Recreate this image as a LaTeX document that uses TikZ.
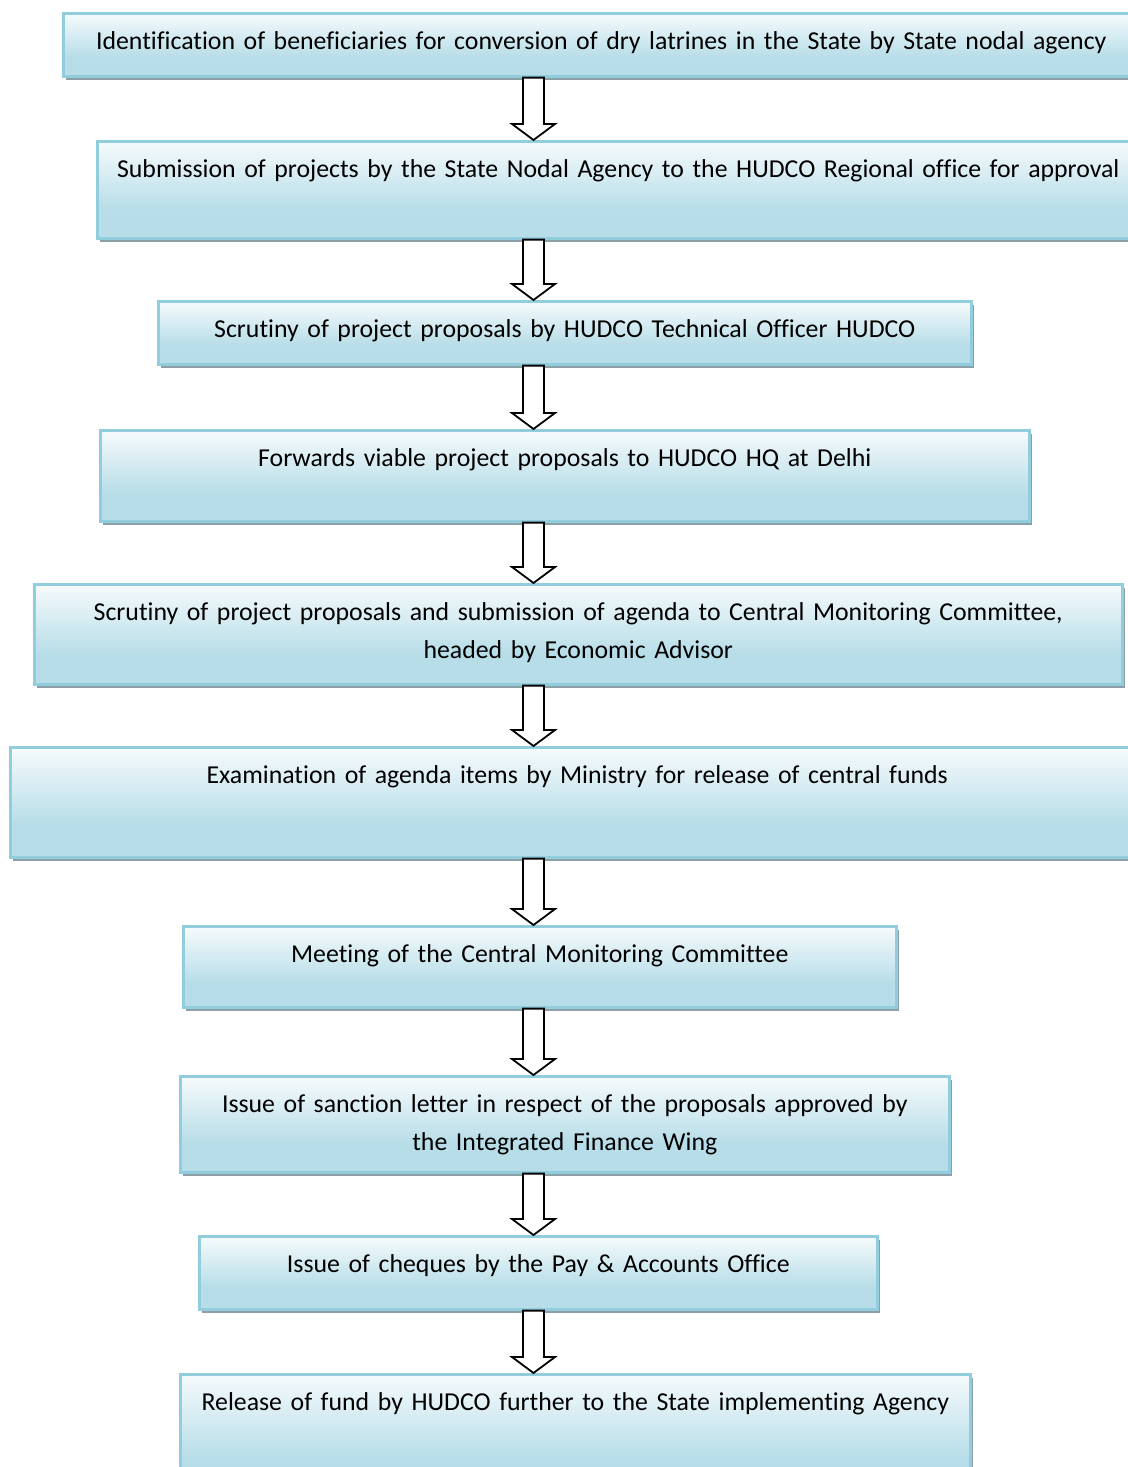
\documentclass[tikz,border=0pt]{standalone}
\usepackage{fontspec}
\setmainfont{Carlito}[Ligatures=NoCommon]
\usetikzlibrary{calc,shadows}

\definecolor{boxline}{RGB}{146,205,221}
\definecolor{boxfill}{RGB}{183,221,232}
\definecolor{shadowgray}{RGB}{140,158,166}
\pgfdeclareverticalshading{stepshade}{100bp}{color(0bp)=(boxfill); color(40bp)=(boxfill); color(80bp)=(white); color(100bp)=(white)}

% hollow block arrow from the bottom of one box to the top of the next
\newcommand{\blockdown}[2]{%
  \draw[blockarrow] let \p1=(#1.south), \p2=(#2.north) in
    (261.5pt,\y1) -- (261.5pt,\y2+8pt) -- (256pt,\y2+8pt) -- (266.75pt,\y2)
    -- (277.5pt,\y2+8pt) -- (272pt,\y2+8pt) -- (272pt,\y1) -- cycle;}

\begin{document}
\begin{tikzpicture}[x=0.5pt, y=-0.5pt,
    stepbox/.style={draw=boxline, line width=1.3pt, shading=stepshade,
      anchor=north west, inner sep=0pt, align=center, text height=18pt,
      font=\fontsize{12.9}{19}\selectfont,
      drop shadow={shadow xshift=1.5pt, shadow yshift=-2pt, fill=shadowgray, opacity=1}},
    blockarrow/.style={draw=black, fill=white, line width=0.9pt, line join=miter},
]
\useasboundingbox (0,0) rectangle (1128,1467);

\node[stepbox, text width=538pt, text depth=13.5pt] (b1) at (62,12)
  {Identification of beneficiaries for conversion of dry latrines in the State by State nodal agency};
\node[stepbox, text width=521pt, text depth=30.5pt] (b2) at (96,140)
  {Submission of projects by the State Nodal Agency to the HUDCO Regional office for approval};
\node[stepbox, text width=406.5pt, text depth=13.5pt] (b3) at (157,300)
  {Scrutiny of project proposals by HUDCO Technical Officer HUDCO};
\node[stepbox, text width=464.5pt, text depth=27.5pt] (b4) at (99,429)
  {Forwards viable project proposals to HUDCO HQ at Delhi};
\node[stepbox, text width=544pt, text depth=32pt] (b5) at (33,583)
  {Scrutiny of project proposals and submission of agenda to Central Monitoring Committee,\\ headed by Economic Advisor};
\node[stepbox, text width=567pt, text depth=37pt] (b6) at (9,746)
  {Examination of agenda items by Ministry for release of central funds};
\node[stepbox, text width=356.5pt, text depth=22.5pt] (b7) at (182,925)
  {Meeting of the Central Monitoring Committee};
\node[stepbox, text width=384.5pt, text depth=30pt] (b8) at (179,1075)
  {Issue of sanction letter in respect of the proposals approved by\\ the Integrated Finance Wing};
\node[stepbox, text width=339pt, text depth=18.5pt] (b9) at (198,1235)
  {Issue of cheques by the Pay \& Accounts Office};
\node[stepbox, text width=395pt, text depth=42pt] (b10) at (179,1373)
  {Release of fund by HUDCO further to the State implementing Agency};

\blockdown{b1}{b2}
\blockdown{b2}{b3}
\blockdown{b3}{b4}
\blockdown{b4}{b5}
\blockdown{b5}{b6}
\blockdown{b6}{b7}
\blockdown{b7}{b8}
\blockdown{b8}{b9}
\blockdown{b9}{b10}
\end{tikzpicture}
\end{document}
